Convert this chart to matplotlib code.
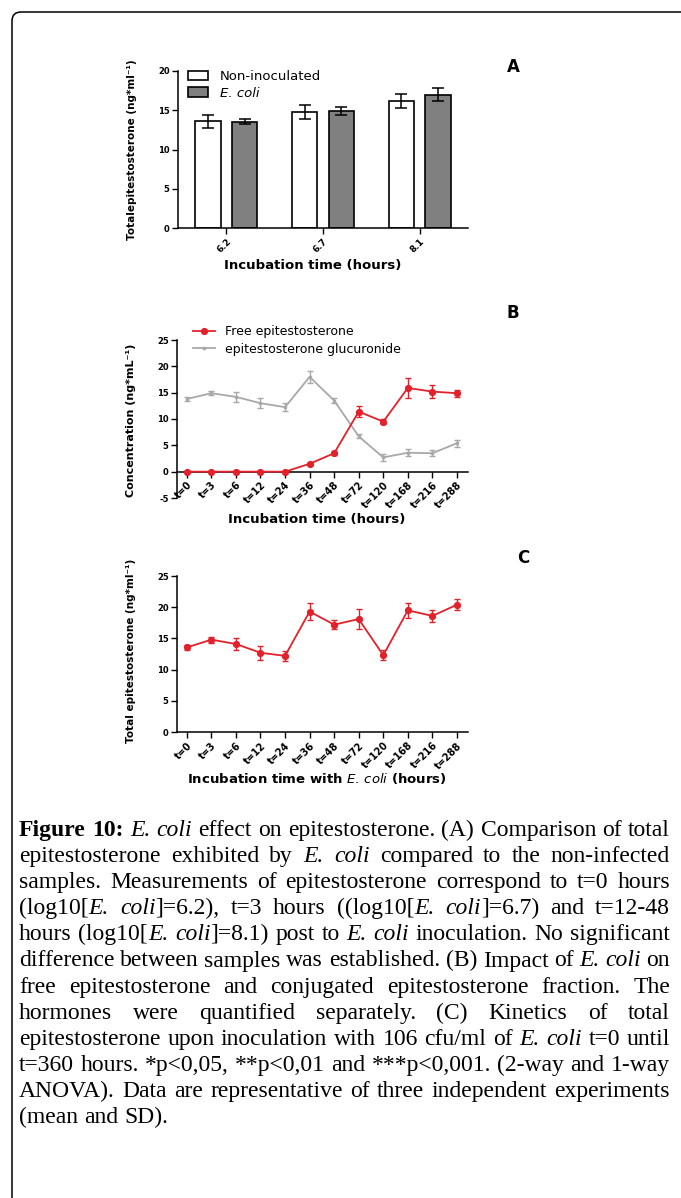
import matplotlib
matplotlib.use("Agg")
import matplotlib.pyplot as plt
import numpy as np
from matplotlib.patches import FancyBboxPatch
from matplotlib.transforms import IdentityTransform

# ---------------- data ----------------
groupsA = ["6.2", "6.7", "8.1"]
nonInoc = [13.6, 14.8, 16.2]
nonInoc_err = [0.8, 0.9, 0.9]
ecoliA = [13.55, 14.95, 17.0]
ecoliA_err = [0.3, 0.5, 0.8]

times = ["t=0", "t=3", "t=6", "t=12", "t=24", "t=36", "t=48", "t=72",
         "t=120", "t=168", "t=216", "t=288"]
free_epi = [0, 0, 0, 0, 0, 1.5, 3.5, 11.4, 9.5, 15.9, 15.2, 14.9]
free_err = [0.1, 0.1, 0.1, 0.1, 0.1, 0.2, 0.3, 1.1, 0.5, 1.9, 1.2, 0.7]
gluc = [13.8, 14.9, 14.2, 13.0, 12.25, 18.0, 13.5, 6.7, 2.7, 3.6, 3.5, 5.4]
gluc_err = [0.4, 0.4, 0.9, 1.0, 0.8, 1.2, 0.5, 0.4, 0.7, 0.7, 0.6, 0.7]
total_epi = [13.55, 14.8, 14.1, 12.7, 12.2, 19.3, 17.2, 18.1, 12.3, 19.5, 18.6, 20.4]
total_err = [0.4, 0.5, 1.0, 1.1, 0.8, 1.3, 0.7, 1.6, 0.8, 1.2, 1.0, 0.9]

W, H = 681, 1198
fig = plt.figure(figsize=(W / 100, H / 100), dpi=100)
fig.patch.set_facecolor("white")

SANS = ["DejaVu Sans"]
RED = "#e3212b"
GRAY = "#a8a8a8"


def axes_px(left, top, right, bottom):
    return fig.add_axes([left / W, 1 - bottom / H, (right - left) / W, (bottom - top) / H])


def style_axes(ax):
    for s in ["top", "right"]:
        ax.spines[s].set_visible(False)
    for s in ["left", "bottom"]:
        ax.spines[s].set_linewidth(1.1)
    ax.tick_params(axis="both", direction="out", length=4, width=1.0, pad=2)


def set_ticklabels(ax, xt, xlabels, yt, xsize):
    ax.set_yticks(yt)
    ax.set_yticklabels([str(v) for v in yt], fontsize=6, fontweight="bold", family=SANS)
    ax.set_xticks(xt)
    ax.set_xticklabels(xlabels, rotation=45, ha="right", rotation_mode="anchor",
                       fontsize=xsize, fontweight="bold", family=SANS)


# ---------------- Panel A ----------------
axA = axes_px(178, 71, 468, 228)
xA = np.arange(len(groupsA))
axA.bar(xA - 0.19, nonInoc, 0.26, color="white", edgecolor="black", lw=1.2,
        label="Non-inoculated", zorder=2)
axA.bar(xA + 0.19, ecoliA, 0.26, color="#808080", edgecolor="black", lw=1.2,
        label="E. coli", zorder=2)
axA.errorbar(xA - 0.19, nonInoc, yerr=nonInoc_err, fmt="none", ecolor="black",
             capsize=4.5, elinewidth=1.1, capthick=1.1, zorder=3)
axA.errorbar(xA + 0.19, ecoliA, yerr=ecoliA_err, fmt="none", ecolor="black",
             capsize=4.5, elinewidth=1.1, capthick=1.1, zorder=3)
axA.set_xlim(-0.5, 2.5)
axA.set_ylim(0, 20)
style_axes(axA)
set_ticklabels(axA, xA, groupsA, [0, 5, 10, 15, 20], 6.5)
axA.set_ylabel("Totalepitestosterone (ng*ml⁻¹)", fontsize=7.5, fontweight="bold",
               family=SANS)
axA.yaxis.set_label_coords(-0.141, 0.5)
axA.set_xlabel("Incubation time (hours)", fontsize=9.5, fontweight="bold", family=SANS)
axA.xaxis.label.set_verticalalignment("center")
axA.xaxis.set_label_coords(0.466, -0.242)
legA = axA.legend(loc="upper left", bbox_to_anchor=(188 / W, 1 - 70 / H),
                  bbox_transform=fig.transFigure, frameon=False, borderpad=0,
                  borderaxespad=0, handlelength=1.5, handleheight=0.76,
                  handletextpad=0.9, labelspacing=0.3,
                  prop={"family": SANS, "size": 9.5})
legA.get_texts()[1].set_style("italic")
fig.text(513 / W, 1 - 67 / H, "A", fontsize=12, fontweight="bold", family=SANS,
         ha="center", va="center")

# ---------------- Panel B ----------------
axB = axes_px(177, 340, 468, 498)
xB = np.arange(len(times))
cg = axB.errorbar(xB, gluc, yerr=gluc_err, color=GRAY, lw=1.3, marker="s", ms=2,
                  capsize=2.3, elinewidth=1.0, capthick=1.0, zorder=2)
cf = axB.errorbar(xB, free_epi, yerr=free_err, color=RED, lw=1.3, marker="o", ms=4.2,
                  capsize=2.3, elinewidth=1.0, capthick=1.0, zorder=3)
axB.set_xlim(-0.4, 11.45)
axB.set_ylim(-5, 25)
style_axes(axB)
axB.spines["bottom"].set_position(("data", 0))
axB.tick_params(axis="both", direction="out", length=4, width=1.0, pad=2)
set_ticklabels(axB, xB, times, [-5, 0, 5, 10, 15, 20, 25], 7)
axB.set_ylabel("Concentration (ng*mL⁻¹)", fontsize=8, fontweight="bold", family=SANS)
axB.yaxis.set_label_coords(-0.14, 0.49)
axB.set_xlabel("Incubation time (hours)", fontsize=9.5, fontweight="bold", family=SANS)
axB.xaxis.label.set_verticalalignment("center")
axB.xaxis.set_label_coords(0.48, -0.133)
axB.legend([cf[0], cg[0]], ["Free epitestosterone", "epitestosterone glucuronide"],
           loc="upper left", bbox_to_anchor=(193 / W, 1 - 325 / H),
           bbox_transform=fig.transFigure, frameon=False, borderpad=0,
           borderaxespad=0, handlelength=1.76, handletextpad=0.8, labelspacing=0.36,
           prop={"family": SANS, "size": 9})
fig.text(513 / W, 1 - 313 / H, "B", fontsize=12, fontweight="bold", family=SANS,
         ha="center", va="center")

# ---------------- Panel C ----------------
axC = axes_px(177, 576, 468, 732)
axC.errorbar(xB, total_epi, yerr=total_err, color=RED, lw=1.3, marker="o", ms=4.2,
             capsize=2.3, elinewidth=1.0, capthick=1.0, zorder=3)
axC.set_xlim(-0.4, 11.45)
axC.set_ylim(0, 25)
style_axes(axC)
set_ticklabels(axC, xB, times, [0, 5, 10, 15, 20, 25], 7)
axC.set_ylabel("Total epitestosterone (ng*ml⁻¹)", fontsize=7.5, fontweight="bold",
               family=SANS)
axC.yaxis.set_label_coords(-0.14, 0.52)
axC.set_xlabel(r"Incubation time with $\it{E.\,coli}$ (hours)", fontsize=9.5,
               fontweight="bold", family=SANS)
axC.xaxis.label.set_verticalalignment("center")
axC.xaxis.set_label_coords(0.48, -0.30)
fig.text(523 / W, 1 - 558 / H, "C", fontsize=12, fontweight="bold", family=SANS,
         ha="center", va="center")

# ---------------- frame ----------------
frame = FancyBboxPatch((12, -30), 800, (H - 12) + 30,
                       boxstyle="round,pad=0,rounding_size=9",
                       transform=IdentityTransform(), fill=False,
                       edgecolor="black", lw=1.1)
fig.add_artist(frame)

# ---------------- caption ----------------
N, I, B = "normal", "italic", "bold"
caption = [
    [("Figure 10:", B), (" ", N), ("E. coli", I), (" effect on epitestosterone. (A) Comparison of total", N)],
    [("epitestosterone exhibited by ", N), ("E. coli", I), (" compared to the non-infected", N)],
    [("samples. Measurements of epitestosterone correspond to t=0 hours", N)],
    [("(log10[", N), ("E. coli", I), ("]=6.2), t=3 hours ((log10[", N), ("E. coli", I),
     ("]=6.7) and t=12-48", N)],
    [("hours (log10[", N), ("E. coli", I), ("]=8.1) post to ", N), ("E. coli", I),
     (" inoculation. No significant", N)],
    [("difference between samples was established. (B) Impact of ", N), ("E. coli", I), (" on", N)],
    [("free epitestosterone and conjugated epitestosterone fraction. The", N)],
    [("hormones were quantified separately. (C) Kinetics of total", N)],
    [("epitestosterone upon inoculation with 106 cfu/ml of ", N), ("E. coli", I), (" t=0 until", N)],
    [("t=360 hours. *p<0,05, **p<0,01 and ***p<0,001. (2-way and 1-way", N)],
    [("ANOVA). Data are representative of three independent experiments", N)],
    [("(mean and SD).", N)],
]

CAP_FONT = ["Liberation Serif", "DejaVu Serif"]
CAP_SIZE = 17
X0, X1 = 19, 670
Y0, DY = 836, 26.1

renderer = fig.canvas.get_renderer()


def build_words(runs):
    words = [[]]
    for text, style in runs:
        parts = text.split(" ")
        for i, p in enumerate(parts):
            if i > 0:
                words.append([])
            if p:
                words[-1].append((p, style))
    return [w for w in words if w]


def make_text(s, style):
    kw = dict(fontsize=CAP_SIZE, family=CAP_FONT, va="baseline", ha="left")
    if style == "bold":
        kw["fontweight"] = "bold"
    elif style == "italic":
        kw["style"] = "italic"
    return fig.text(0, 0, s, **kw)


space_t = make_text("a a", N)
w_aa = space_t.get_window_extent(renderer).width
aa_t = make_text("aa", N)
w_space = w_aa - aa_t.get_window_extent(renderer).width
space_t.remove()
aa_t.remove()

for li, runs in enumerate(caption):
    words = build_words(runs)
    word_objs = []
    widths = []
    for w in words:
        objs = []
        tot = 0
        for s, st in w:
            t = make_text(s, st)
            ww = t.get_window_extent(renderer).width
            objs.append((t, ww))
            tot += ww
        word_objs.append(objs)
        widths.append(tot)
    last = li == len(caption) - 1
    if last or len(words) < 2:
        gap = w_space
    else:
        gap = (X1 - X0 - sum(widths)) / (len(words) - 1)
    x = X0
    ybase = Y0 + li * DY
    for objs, wsum in zip(word_objs, widths):
        xx = x
        for t, ww in objs:
            t.set_position((xx / W, 1 - ybase / H))
            xx += ww
        x += wsum + gap

fig.savefig("out.png", dpi=100, facecolor="white")
